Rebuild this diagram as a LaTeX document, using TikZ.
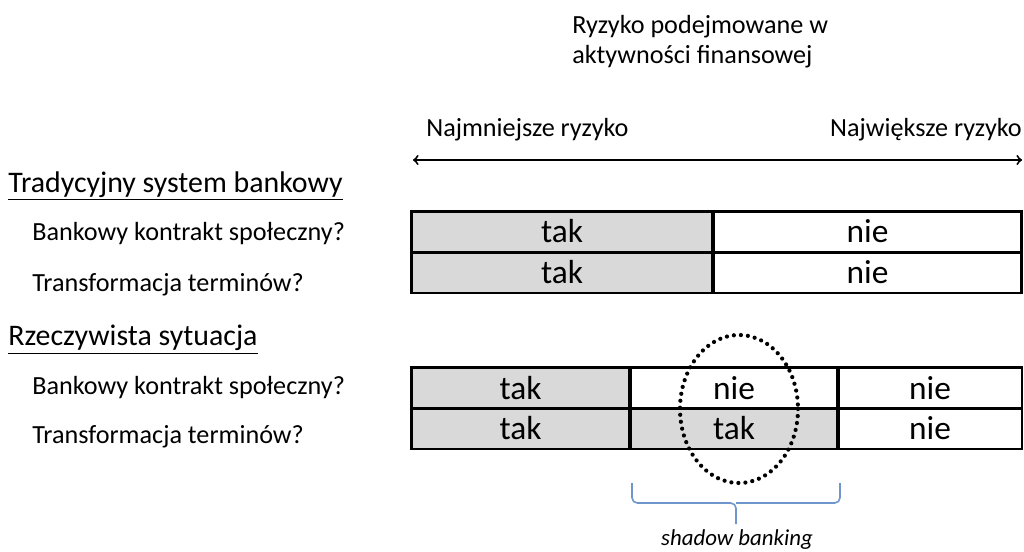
\documentclass[tikz,border=0pt]{standalone}
\usepackage{fontspec}
\setmainfont{Carlito}
\usetikzlibrary{arrows}

\begin{document}
\begin{tikzpicture}[x=0.02cm,y=-0.02cm,
    label/.style={anchor=west,inner sep=0,font=\fontsize{14.9}{17}\selectfont},
    heading/.style={anchor=west,inner sep=0,font=\fontsize{17}{19}\selectfont},
    cell/.style={draw,line width=1.7pt,inner sep=0,minimum height=0.82cm,font=\fontsize{19}{22}\selectfont},
    yes/.style={cell,fill=black!15}]
    \useasboundingbox (0,0) rectangle (1024,551);
    % naglowek
    \node [label,align=left] (ryzyko) at (572,42) {Ryzyko podejmowane w\\aktywności finansowej};
    \node [label] (najmniej) at (426,130) {Najmniejsze ryzyko};
    \node [label,anchor=east] (najwiecej) at (1022,130) {Największe ryzyko};
    \path coordinate (l) at (413,160);
    \path coordinate (r) at (1022,160);
    \draw [<->,>=to,line width=1.1pt] (l)--(r);
    % system tradycyjny
    \node [heading] (trad) at (8,186) {\underline{Tradycyjny system bankowy}};
    \node [label] (trad1) at (32,234) {Bankowy kontrakt społeczny?};
    \node [label] (trad2) at (32,285) {Transformacja terminów?};
    \node [yes,minimum width=6.04cm] (t1a) at (562,231.5) {tak};
    \node [cell,minimum width=6.18cm] (t1b) at (867.5,231.5) {nie};
    \node [yes,minimum width=6.04cm] (t2a) at (562,272.5) {tak};
    \node [cell,minimum width=6.18cm] (t2b) at (867.5,272.5) {nie};
    % sytuacja rzeczywista
    \node [heading] (rzecz) at (8,340) {\underline{Rzeczywista sytuacja}};
    \node [label] (rzecz1) at (32,388) {Bankowy kontrakt społeczny?};
    \node [label] (rzecz2) at (32,437) {Transformacja terminów?};
    \node [yes,minimum width=4.38cm] (r1a) at (520.5,388) {tak};
    \node [cell,minimum width=4.16cm] (r1b) at (734,388) {nie};
    \node [cell,minimum width=3.68cm] (r1c) at (930,388) {nie};
    \node [yes,minimum width=4.38cm] (r2a) at (520.5,428.5) {tak};
    \node [yes,minimum width=4.16cm] (r2b) at (734,428.5) {tak};
    \node [cell,minimum width=3.68cm] (r2c) at (930,428.5) {nie};
    \draw [line width=2.4pt,line cap=round,dash pattern=on 0pt off 4pt] (739,409) ellipse (59 and 74);
    % klamra
    \path coordinate (kl) at (632,483);
    \path coordinate (kr) at (840,483);
    \path coordinate (kt) at (736,524);
    \draw [color={rgb,255:red,110;green,150;blue,205},line width=0.9pt,rounded corners=3pt]
        (kl)--(632,503)--(736,503)--(kt) (kr)--(840,503)--(736,503);
    \node [font=\fontsize{13}{15}\selectfont\itshape,inner sep=0] (shadow) at (737,540) {shadow banking};
\end{tikzpicture}
\end{document}
